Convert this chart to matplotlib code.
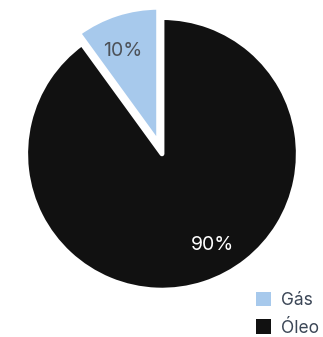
import numpy as np
import matplotlib
matplotlib.use('Agg')
import matplotlib.pyplot as plt

plt.rcParams['font.family'] = ['Inter', 'DejaVu Sans']

# production split
labels = ['Gás', 'Óleo']
shares = [10, 90]
colors = ['#a7c9ec', '#111111']
explode = [0.08, 0]
pct_colors = ['#4d5259', '#ffffff']

fig = plt.figure(figsize=(3.23, 3.37), dpi=100)
ax = fig.add_axes([0.0, 0.063, 1.003, 0.961])

wedges, texts, autotexts = ax.pie(
    shares, colors=colors, explode=explode, startangle=90, counterclock=True,
    radius=1.01, autopct='%d%%', pctdistance=0.78,
    wedgeprops=dict(edgecolor='white', linewidth=3.5, joinstyle='round'),
    textprops=dict(fontsize=14))

for t, c in zip(autotexts, pct_colors):
    t.set_color(c)

# move the large slice label toward the lower right
ang = np.deg2rad(-61)
autotexts[1].set_position((0.77 * np.cos(ang), 0.77 * np.sin(ang)))
ang = np.deg2rad(111)
autotexts[0].set_position((0.82 * np.cos(ang), 0.82 * np.sin(ang)))

ax.set_xlim(-1.2, 1.2)
ax.set_ylim(-1.2, 1.2)
ax.set_aspect('equal')
ax.axis('off')

leg = fig.legend(wedges, labels, loc='lower right', bbox_to_anchor=(1.02, -0.03),
                 frameon=False, prop=dict(size=12.5), borderpad=0.1,
                 handlelength=0.9, handleheight=0.9,
                 handletextpad=0.55, labelspacing=0.6, labelcolor='#3b4656')
for h in leg.legend_handles:
    h.set_edgecolor('none')

plt.savefig('out.png', dpi=100, facecolor='white')
